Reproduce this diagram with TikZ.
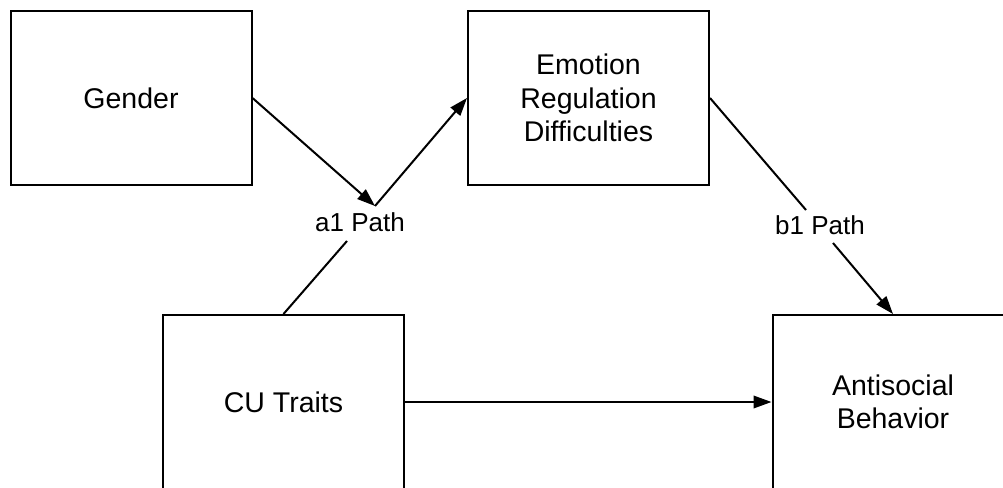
\documentclass[tikz,border=0pt]{standalone}
\usepackage{fontspec}
\setmainfont{Liberation Sans}
\usetikzlibrary{arrows.meta}
\begin{document}
\begin{tikzpicture}[x=1pt,y=-1pt,
  boxnode/.style={draw=black,line width=2pt,rectangle,minimum width=241pt,minimum height=174pt,inner sep=0pt,align=center,font=\fontsize{28.5}{33.5}\selectfont},
  lbl/.style={inner sep=0pt,font=\fontsize{26}{30}\selectfont},
  link/.style={line width=2pt,draw=black},
  arr/.style={link,-{Triangle[length=18pt,width=12.5pt]}}]
\clip (0,0) rectangle (1003,487);
\fill[white] (0,0) rectangle (1003,487);
\node[boxnode] (gender) at (131,98) {Gender};
\node[boxnode] (emo) at (588.5,98) {Emotion\\Regulation\\Difficulties};
\node[boxnode] (cu) at (283.5,402) {CU Traits};
\node[boxnode] (anti) at (893,402) {Antisocial\\Behavior};
\coordinate (j1) at (375,206);
\coordinate (a1b) at (347,241);
\coordinate (b1a) at (806,210);
\coordinate (b1b) at (833,243);
\node[lbl] (a1) at (360,222) {a1 Path};
\node[lbl] (b1) at (820,225) {b1 Path};
\draw[arr] (gender.east) -- (j1);
\draw[arr] (j1) -- (emo.west);
\draw[link] (cu.north) -- (a1b);
\draw[link] (emo.east) -- (b1a);
\draw[arr] (b1b) -- (anti.north);
\draw[arr] (cu.east) -- (anti.west);
\end{tikzpicture}
\end{document}
